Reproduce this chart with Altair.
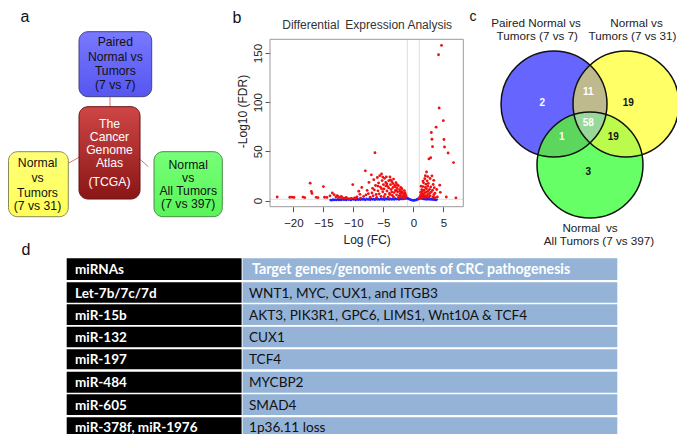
import math
import altair as alt
import pandas as pd

W, H = 669, 426
SANS = "Liberation Sans"
TABF = "Lato"

# ---------------- data ----------------
panel_letters = ["a", "b", "c", "d"]

box_keys = ["paired", "tcga", "t31", "all"]
box_lines = {
    "paired": ["Paired", "Normal vs", "Tumors", "(7 vs 7)"],
    "tcga": ["The", "Cancer", "Genome", "Atlas", "(TCGA)"],
    "t31": ["Normal", "vs", "Tumors", "(7 vs 31)"],
    "all": ["Normal", "vs", "All Tumors", "(7 vs 397)"],
}

volcano_title = "Differential\u2002Expression Analysis"
x_ticks = [-20, -15, -10, -5, 0, 5]
y_ticks = [0, 50, 100, 150]
fc_cutoffs = [-1, 1]
fdr_cutoff = [1.3]

# (logFC, -log10 FDR)
red_points = [
    (-22.7, 3.6), (-20.6, 3.3), (-20.2, 3.4), (-19.9, 3.1), (-18.4, 3.5), (-18.1, 3.0),
    (-17.2, 17.6), (-17.0, 9.2), (-16.9, 7.2), (-16.2, 3.2), (-15.9, 3.0), (-15.0, 14.2),
    (-14.8, 3.3), (-14.4, 3.1), (-13.9, 4.8), (-13.5, 7.6), (-13.2, 5.9), (-12.9, 3.6),
    (-12.7, 5.0), (-12.5, 3.9), (-12.3, 2.9), (-12.0, 4.2), (-11.8, 2.6), (-11.5, 2.3),
    (-11.2, 3.1), (-10.9, 2.0), (-10.5, 1.9), (-10.1, 16.2), (-9.8, 2.7), (-9.4, 3.6),
    (-9.1, 9.4), (-8.8, 2.4), (-8.6, 13.3), (-8.3, 4.1), (-8.0, 30.2), (-7.9, 5.7),
    (-7.7, 10.3), (-7.4, 18.4), (-7.2, 3.3), (-7.0, 26.1), (-6.9, 7.6), (-6.8, 12.4),
    (-6.6, 21.2), (-6.4, 48.6), (-6.3, 15.3), (-6.2, 6.1), (-6.1, 3.2), (-6.0, 23.4),
    (-5.9, 9.8), (-5.8, 17.9), (-5.6, 25.3), (-5.5, 13.7), (-5.4, 4.1), (-5.3, 27.0),
    (-5.2, 20.3), (-5.1, 8.9), (-5.0, 16.2), (-4.9, 11.8), (-4.8, 22.6), (-4.7, 6.2),
    (-4.6, 18.3), (-4.5, 24.1), (-4.4, 9.7), (-4.3, 14.4), (-4.2, 3.3), (-4.1, 20.2),
    (-4.0, 7.1), (-3.9, 24.0), (-3.8, 16.1), (-3.7, 11.2), (-3.6, 19.3), (-3.5, 5.1),
    (-3.4, 13.2), (-3.3, 21.8), (-3.2, 8.1), (-3.1, 15.4), (-3.0, 10.2), (-2.9, 18.1),
    (-2.8, 5.8), (-2.7, 12.3), (-2.6, 8.8), (-2.5, 15.1), (-2.4, 4.6), (-2.3, 11.1),
    (-2.2, 6.9), (-2.1, 13.2), (-2.0, 4.9), (-1.9, 9.1), (-1.8, 3.4), (-1.7, 7.2),
    (-1.6, 5.1), (-1.5, 10.1), (-1.4, 3.1), (-1.3, 6.2), (-1.2, 4.1), (-5.7, 6.8),
    (-4.9, 3.8), (-4.4, 17.0), (-3.9, 6.0), (-3.3, 3.6), (-2.8, 9.9), (-2.5, 2.9),
    (-2.0, 7.8), (-6.5, 10.8), (-5.3, 12.0), (-4.1, 12.8), (-3.6, 8.6), (-3.0, 14.0),
    (-2.3, 3.4), (-1.6, 2.8), (-7.5, 7.0), (-6.7, 4.8), (-5.9, 14.7), (-5.1, 23.8),
    (-4.6, 14.9), (-3.8, 21.0), (-3.4, 17.3), (-2.7, 16.0), (-2.2, 9.4), (-1.9, 12.0),
    (-1.4, 7.9), (-8.9, 6.3), (-9.6, 2.4), (-10.3, 2.2),
    (1.0, 2.4), (1.1, 3.3), (1.2, 5.2), (1.2, 8.3), (1.3, 3.9), (1.4, 6.4), (1.4, 11.0),
    (1.5, 3.1), (1.5, 9.2), (1.6, 4.7), (1.6, 14.2), (1.7, 6.8), (1.7, 18.0), (1.8, 3.6),
    (1.8, 10.5), (1.9, 7.9), (1.9, 22.1), (2.0, 5.0), (2.0, 13.3), (2.0, 25.2), (2.1, 3.2),
    (2.1, 16.6), (2.2, 8.7), (2.2, 11.9), (2.3, 4.3), (2.3, 20.0), (2.4, 6.2), (2.4, 14.6),
    (2.5, 9.6), (2.5, 17.4), (2.6, 3.5), (2.6, 42.3), (2.7, 11.3), (2.7, 7.2), (2.8, 22.4),
    (2.8, 4.8), (2.9, 43.6), (2.9, 13.8), (3.0, 69.2), (3.0, 8.6), (3.1, 62.3), (3.1, 25.1),
    (3.2, 54.8), (3.2, 10.4), (3.3, 16.3), (3.3, 3.4), (3.4, 5.8), (3.5, 13.1), (3.6, 7.4),
    (3.6, 2.9), (3.8, 74.6), (3.9, 11.2), (4.0, 3.6), (4.2, 148.3), (4.3, 94.1), (4.4, 15.6),
    (4.5, 8.3), (4.7, 157.8), (5.0, 81.2), (5.1, 62.1), (5.2, 54.4), (5.5, 3.6), (5.8, 48.3),
    (6.7, 38.6), (7.1, 2.7), (2.2, 29.0), (1.3, 14.5), (2.4, 24.3), (1.6, 19.8), (3.4, 20.5),
]

blue_points = [
    (-13.8, 0.6), (-13.4, 1.0), (-13.0, 0.8), (-12.6, 1.2), (-12.2, 0.9), (-11.8, 1.4),
    (-11.4, 1.1), (-11.0, 1.6), (-10.6, 1.2), (-10.2, 1.5), (-9.8, 1.3), (-9.4, 1.7),
    (-9.0, 1.2), (-8.6, 1.6), (-8.2, 1.4), (-7.8, 1.8), (-7.4, 1.3), (-7.0, 1.7),
    (-6.6, 1.5), (-6.2, 1.9), (-5.8, 1.4), (-5.4, 1.8), (-5.0, 1.6), (-4.6, 2.0),
    (-4.2, 1.5), (-3.8, 1.9), (-3.4, 1.7), (-3.0, 2.1), (-2.6, 1.8), (-2.2, 2.2),
    (-1.8, 2.4), (-1.5, 2.6), (-1.2, 2.9), (-0.9, 2.2), (-0.6, 1.2), (-0.3, 0.5),
    (0.0, 0.2), (0.3, 0.6), (0.6, 1.4), (0.9, 2.5), (1.2, 3.0), (1.5, 2.4), (1.8, 2.0),
    (2.1, 1.7), (2.4, 1.9), (2.7, 1.5), (3.0, 1.6), (3.3, 1.2), (3.6, 1.3), (3.9, 0.9),
    (-13.6, 0.3), (-13.2, 0.5), (-12.8, 0.4), (-12.4, 0.6), (-12.0, 0.5), (-11.6, 0.7),
    (-11.2, 0.4), (-10.8, 0.8), (-10.4, 0.6), (-10.0, 0.9), (-9.6, 0.5), (-9.2, 0.8),
    (-8.8, 0.7), (-8.4, 1.0), (-8.0, 0.6), (-7.6, 0.9), (-7.2, 0.8), (-6.8, 1.0),
    (-6.4, 0.7), (-6.0, 1.1), (-5.6, 0.9), (-5.2, 1.0), (-4.8, 0.8), (-4.4, 1.2),
    (-4.0, 1.0), (-3.6, 1.1), (-3.2, 0.9), (-2.8, 1.3), (-2.4, 1.1), (-2.0, 1.4),
    (-1.65, 1.6), (-1.35, 1.9), (-1.05, 2.0), (-0.75, 1.5), (-0.45, 0.8), (-0.15, 0.3),
    (0.15, 0.1), (0.45, 0.4), (0.75, 1.0), (1.05, 1.8), (1.35, 2.1), (1.65, 1.6),
    (1.95, 1.3), (2.25, 1.1), (2.55, 1.2), (2.85, 0.9), (3.15, 1.0), (3.45, 0.7), (3.75, 0.6),
]

venn_sets = ["Paired Normal vs Tumors (7 vs 7)", "Normal vs Tumors (7 vs 31)",
             "Normal vs All Tumors (7 vs 397)"]
venn_label_lines = [["Paired Normal vs", "Tumors (7 vs 7)"],
                    ["Normal vs", "Tumors (7 vs 31)"],
                    ["Normal\u2002vs", "All Tumors (7 vs 397)"]]
venn_regions = ["B", "Y", "G", "BY", "BG", "YG", "BYG"]
venn_counts = ["2", "19", "3", "11", "1", "19", "58"]

table_header = ["miRNAs", "Target genes/genomic events of CRC pathogenesis"]
table_mirnas = ["Let-7b/7c/7d", "miR-15b", "miR-132", "miR-197", "miR-484",
                "miR-605", "miR-378f, miR-1976"]
table_targets = ["WNT1, MYC, CUX1, and ITGB3",
                 "AKT3, PIK3R1, GPC6, LIMS1, Wnt10A & TCF4",
                 "CUX1", "TCF4", "MYCBP2", "SMAD4", "1p36.11 loss"]

# ---------------- layout (pixels) ----------------
letter_pos = [(17, 14, 16), (229, 15, 16), (465, 12.5, 14), (18, 247, 16)]

box_rect = {"paired": (71, 143.7, 23.7, 88.7), "tcga": (71, 132, 98.7, 191),
            "t31": (0.5, 60.3, 143.7, 208.7), "all": (146, 214.3, 143.7, 208.7)}
box_text_x = {"paired": 107.3, "tcga": 101.5, "t31": 29.5, "all": 180.2}
box_text_y = {"paired": [34.3, 48.7, 63, 77.3],
              "tcga": [116, 128.7, 142, 155.3, 173.7],
              "t31": [155.3, 170.3, 184.7, 198],
              "all": [157, 170.3, 183, 195.5]}
box_style = {
    "paired": ("#7878FF", "#5656F0", "#40408a"),
    "tcga": ("#CF4646", "#8A1616", "#6a1010"),
    "t31": ("#FFFF78", "#FFFF58", "#8a8a55"),
    "all": ("#78FF78", "#58F558", "#4a8a4a"),
}
connectors = [(102, 88.7, 102, 98.7), (60.3, 155.3, 71, 149.3), (132, 151.3, 140.3, 158.7)]

plot_x0, plot_x1, plot_y0, plot_y1 = 262, 455.3, 31.3, 198.7
x_dom, y_dom = [-23.9, 8.33], [-6.3, 164]

R_V = 53
venn_circ = {"B": (546, 96, R_V), "Y": (618, 96, R_V), "G": (582, 157, R_V)}
venn_fill = {"B": "#6666FF", "Y": "#FFFF66", "G": "#66FF66", "BY": "#BFBA8E",
             "BG": "#5CD65C", "YG": "#BBFB4B", "BYG": "#98D898"}
venn_count_pos = {"B": (534.3, 95.3), "Y": (620.3, 95.3), "G": (580.3, 163.7),
                  "BY": (580.3, 83.7), "BG": (553.7, 129.3), "YG": (605.3, 129.3),
                  "BYG": (580.3, 114.7)}
venn_count_col = {"B": "white", "Y": "#111", "G": "#111", "BY": "white", "BG": "white",
                  "YG": "#111", "BYG": "white"}
venn_label_pos = [[(528, 15.3), (529.3, 27.5)], [(628.5, 15.3), (624.5, 27.5)],
                  [(582, 219.5), (591, 232.5)]]

tab_x = (58.7, 233.6, 234.6, 609.3)
tab_tops = [250.3, 274.3, 296.3, 318.7, 341.3, 363.7, 386.3, 409.3]
tab_bots = [272.0, 294.7, 317.0, 339.3, 361.3, 384.7, 407.0, 432.0]
tab_text_x = (67, 241)
TAB_BLUE = "#95B3D7"


def P(f):
    return alt.X(f + ":Q", scale=None, axis=None)


def Q(f):
    return alt.Y(f + ":Q", scale=None, axis=None)


def text_layer(rows, size, color, weight="normal", font=SANS, align="center",
               baseline="middle"):
    df = pd.DataFrame(rows, columns=["t", "x", "y"])
    return alt.Chart(df).mark_text(font=font, fontSize=size, color=color,
                                   fontWeight=weight, align=align,
                                   baseline=baseline).encode(
        x=P("x"), y=Q("y"), text="t:N")


layers = []

# ---------------- panel a ----------------
con_df = pd.DataFrame(connectors, columns=["x0", "y0", "x1", "y1"])
layers.append(alt.Chart(con_df).mark_rule(color="#E07070", strokeWidth=1).encode(
    x=P("x0"), y=Q("y0"), x2="x1", y2="y1"))
for k in box_keys:
    x0, x1, y0, y1 = box_rect[k]
    top, bot, stroke = box_style[k]
    grad = alt.LinearGradient(gradient="linear",
                              stops=[alt.GradientStop(color=top, offset=0),
                                     alt.GradientStop(color=bot, offset=1)],
                              x1=0, x2=0, y1=0, y2=1)
    df = pd.DataFrame([{"k": k, "x0": x0, "x1": x1, "y0": y0, "y1": y1}])
    layers.append(alt.Chart(df).mark_rect(fill=grad, stroke=stroke, strokeWidth=1,
                                          cornerRadius=9).encode(
        x=P("x0"), x2="x1", y=Q("y0"), y2="y1"))
    rows = [(t, box_text_x[k], yy) for t, yy in zip(box_lines[k], box_text_y[k])]
    layers.append(text_layer(rows, 12.2, "white" if k == "tcga" else "#111"))

# ---------------- panel b (volcano) ----------------
xs = alt.Scale(domain=x_dom, range=[plot_x0, plot_x1], nice=False, zero=False)
ys = alt.Scale(domain=y_dom, range=[plot_y1, plot_y0], nice=False, zero=False)
x_axis = alt.Axis(orient="bottom", offset=plot_y1 - H, values=x_ticks, grid=False,
                  domain=False, tickSize=5, tickColor="#555", labelFont=SANS,
                  labelFontSize=11.5, labelColor="#222", labelPadding=6,
                  title="Log (FC)", titleFont=SANS, titleFontSize=12,
                  titleFontWeight="normal", titleColor="#222", titlePadding=5)
y_axis = alt.Axis(orient="left", offset=-plot_x0, values=y_ticks, grid=False,
                  domain=False, tickSize=5, tickColor="#555", labelFont=SANS,
                  labelFontSize=11.5, labelColor="#222", labelPadding=2,
                  labelAngle=270, labelAlign="center", labelBaseline="bottom",
                  title="-Log10 (FDR)", titleFont=SANS, titleFontSize=12,
                  titleFontWeight="normal", titleColor="#222", titlePadding=3,
                  titleY=103)
VX = alt.X("fc:Q", scale=xs, axis=x_axis)
VY = alt.Y("fdr:Q", scale=ys, axis=y_axis)

red_df = pd.DataFrame(red_points, columns=["fc", "fdr"])
blue_df = pd.DataFrame(blue_points, columns=["fc", "fdr"])
vr = alt.Chart(pd.DataFrame({"fc": fc_cutoffs})).mark_rule(
    color="#DDDDDD", strokeWidth=1).encode(
    x=VX, y=alt.value(plot_y0), y2=alt.value(plot_y1))
hr = alt.Chart(pd.DataFrame({"fdr": fdr_cutoff})).mark_rule(
    color="#DDDDDD", strokeWidth=1).encode(
    y=VY, x=alt.value(plot_x0), x2=alt.value(plot_x1))
bl = alt.Chart(blue_df).mark_circle(color="#2020FF", size=6, opacity=1).encode(x=VX, y=VY)
rd = alt.Chart(red_df).mark_circle(color="#F01010", size=8, opacity=1).encode(x=VX, y=VY)
volcano = alt.layer(vr, hr, bl, rd)
layers.append(volcano)

frame_df = pd.DataFrame([{"x0": plot_x0, "x1": plot_x1, "y0": plot_y0, "y1": plot_y1}])
layers.append(alt.Chart(frame_df).mark_rect(fillOpacity=0, stroke="#9A9A9A",
                                            strokeWidth=1).encode(
    x=P("x0"), x2="x1", y=Q("y0"), y2="y1"))
layers.append(text_layer([(volcano_title, (plot_x0 + plot_x1) / 2 + 0.5, 17)], 12, "#333"))

# ---------------- panel c (Venn) ----------------
def circ_pts(c, n=720):
    cx, cy, r = c
    return [(cx + r * math.cos(2 * math.pi * i / n), cy + r * math.sin(2 * math.pi * i / n))
            for i in range(n)]


def inside(p, c):
    return (p[0] - c[0]) ** 2 + (p[1] - c[1]) ** 2 <= c[2] ** 2 + 1e-6


def region_poly(keys):
    cs = [venn_circ[k] for k in keys]
    pts = []
    for i, c in enumerate(cs):
        for p in circ_pts(c):
            if all(inside(p, o) for j, o in enumerate(cs) if j != i):
                pts.append(p)
    mx = sum(p[0] for p in pts) / len(pts)
    my = sum(p[1] for p in pts) / len(pts)
    pts.sort(key=lambda p: math.atan2(p[1] - my, p[0] - mx))
    ring = [[round(p[0], 2), round(p[1], 2)] for p in pts]
    ring.append(ring[0])
    return ring


features = []
for reg in venn_regions:
    features.append({"type": "Feature", "properties": {"fill": venn_fill[reg]},
                     "geometry": {"type": "Polygon", "coordinates": [region_poly(list(reg))]}})
layers.append(alt.Chart(alt.Data(values=features)).mark_geoshape(strokeWidth=0).encode(
    fill=alt.Fill("properties.fill:N", scale=None)).project(
    type="identity", scale=1, translate=[0, 0]))

circ_df = pd.DataFrame([{"k": k, "x": c[0], "y": c[1]} for k, c in venn_circ.items()])
layers.append(alt.Chart(circ_df).mark_point(shape="circle", filled=False, color="#111",
                                            strokeWidth=1.5, opacity=1,
                                            size=(2 * R_V) ** 2).encode(
    x=P("x"), y=Q("y")))
for col in ["white", "#111"]:
    rows = [(cnt, venn_count_pos[r][0], venn_count_pos[r][1])
            for r, cnt in zip(venn_regions, venn_counts) if venn_count_col[r] == col]
    layers.append(text_layer(rows, 10, col, weight="bold"))
rows = []
for lines, poss in zip(venn_label_lines, venn_label_pos):
    for t, (x, y) in zip(lines, poss):
        rows.append((t, x, y))
layers.append(text_layer(rows, 11.7, "#222"))

# ---------------- panel d (table) ----------------
rect_rows = []
for i, (t0, t1) in enumerate(zip(tab_tops, tab_bots)):
    rect_rows.append({"x0": tab_x[0], "x1": tab_x[1], "y0": t0, "y1": t1, "c": "#000000"})
    rect_rows.append({"x0": tab_x[2], "x1": tab_x[3], "y0": t0, "y1": t1, "c": TAB_BLUE})
layers.append(alt.Chart(pd.DataFrame(rect_rows)).mark_rect().encode(
    x=P("x0"), x2="x1", y=Q("y0"), y2="y1", fill=alt.Fill("c:N", scale=None)))
mids = [(a + b) / 2 + 1 for a, b in zip(tab_tops, tab_bots)]
mids[-1] = tab_tops[-1] + 11
layers.append(text_layer([(table_header[0], tab_text_x[0], mids[0])], 13.5, "white",
                         weight="bold", font=TABF, align="left"))
layers.append(text_layer([(table_header[1], tab_text_x[1] + 3, mids[0])], 14.2, "white",
                         weight="bold", font=TABF, align="left"))
layers.append(text_layer([(m, tab_text_x[0], y) for m, y in zip(table_mirnas, mids[1:])],
                         13.5, "white", weight="bold", font=TABF, align="left"))
layers.append(text_layer([(t, tab_text_x[1], y) for t, y in zip(table_targets, mids[1:])],
                         13.6, "#111", font=TABF, align="left"))

# ---------------- panel letters ----------------
for ch, (x, y, s) in zip(panel_letters, letter_pos):
    layers.append(text_layer([(ch, x, y)], s, "#111", baseline="alphabetic"))

chart = alt.layer(*layers).resolve_scale(x="independent", y="independent").properties(
    width=W, height=H, autosize=alt.AutoSizeParams(type="none"), padding=0,
    background="white").configure_view(stroke=None)

chart.save("out.html", embed_options={"renderer": "svg", "actions": False})
